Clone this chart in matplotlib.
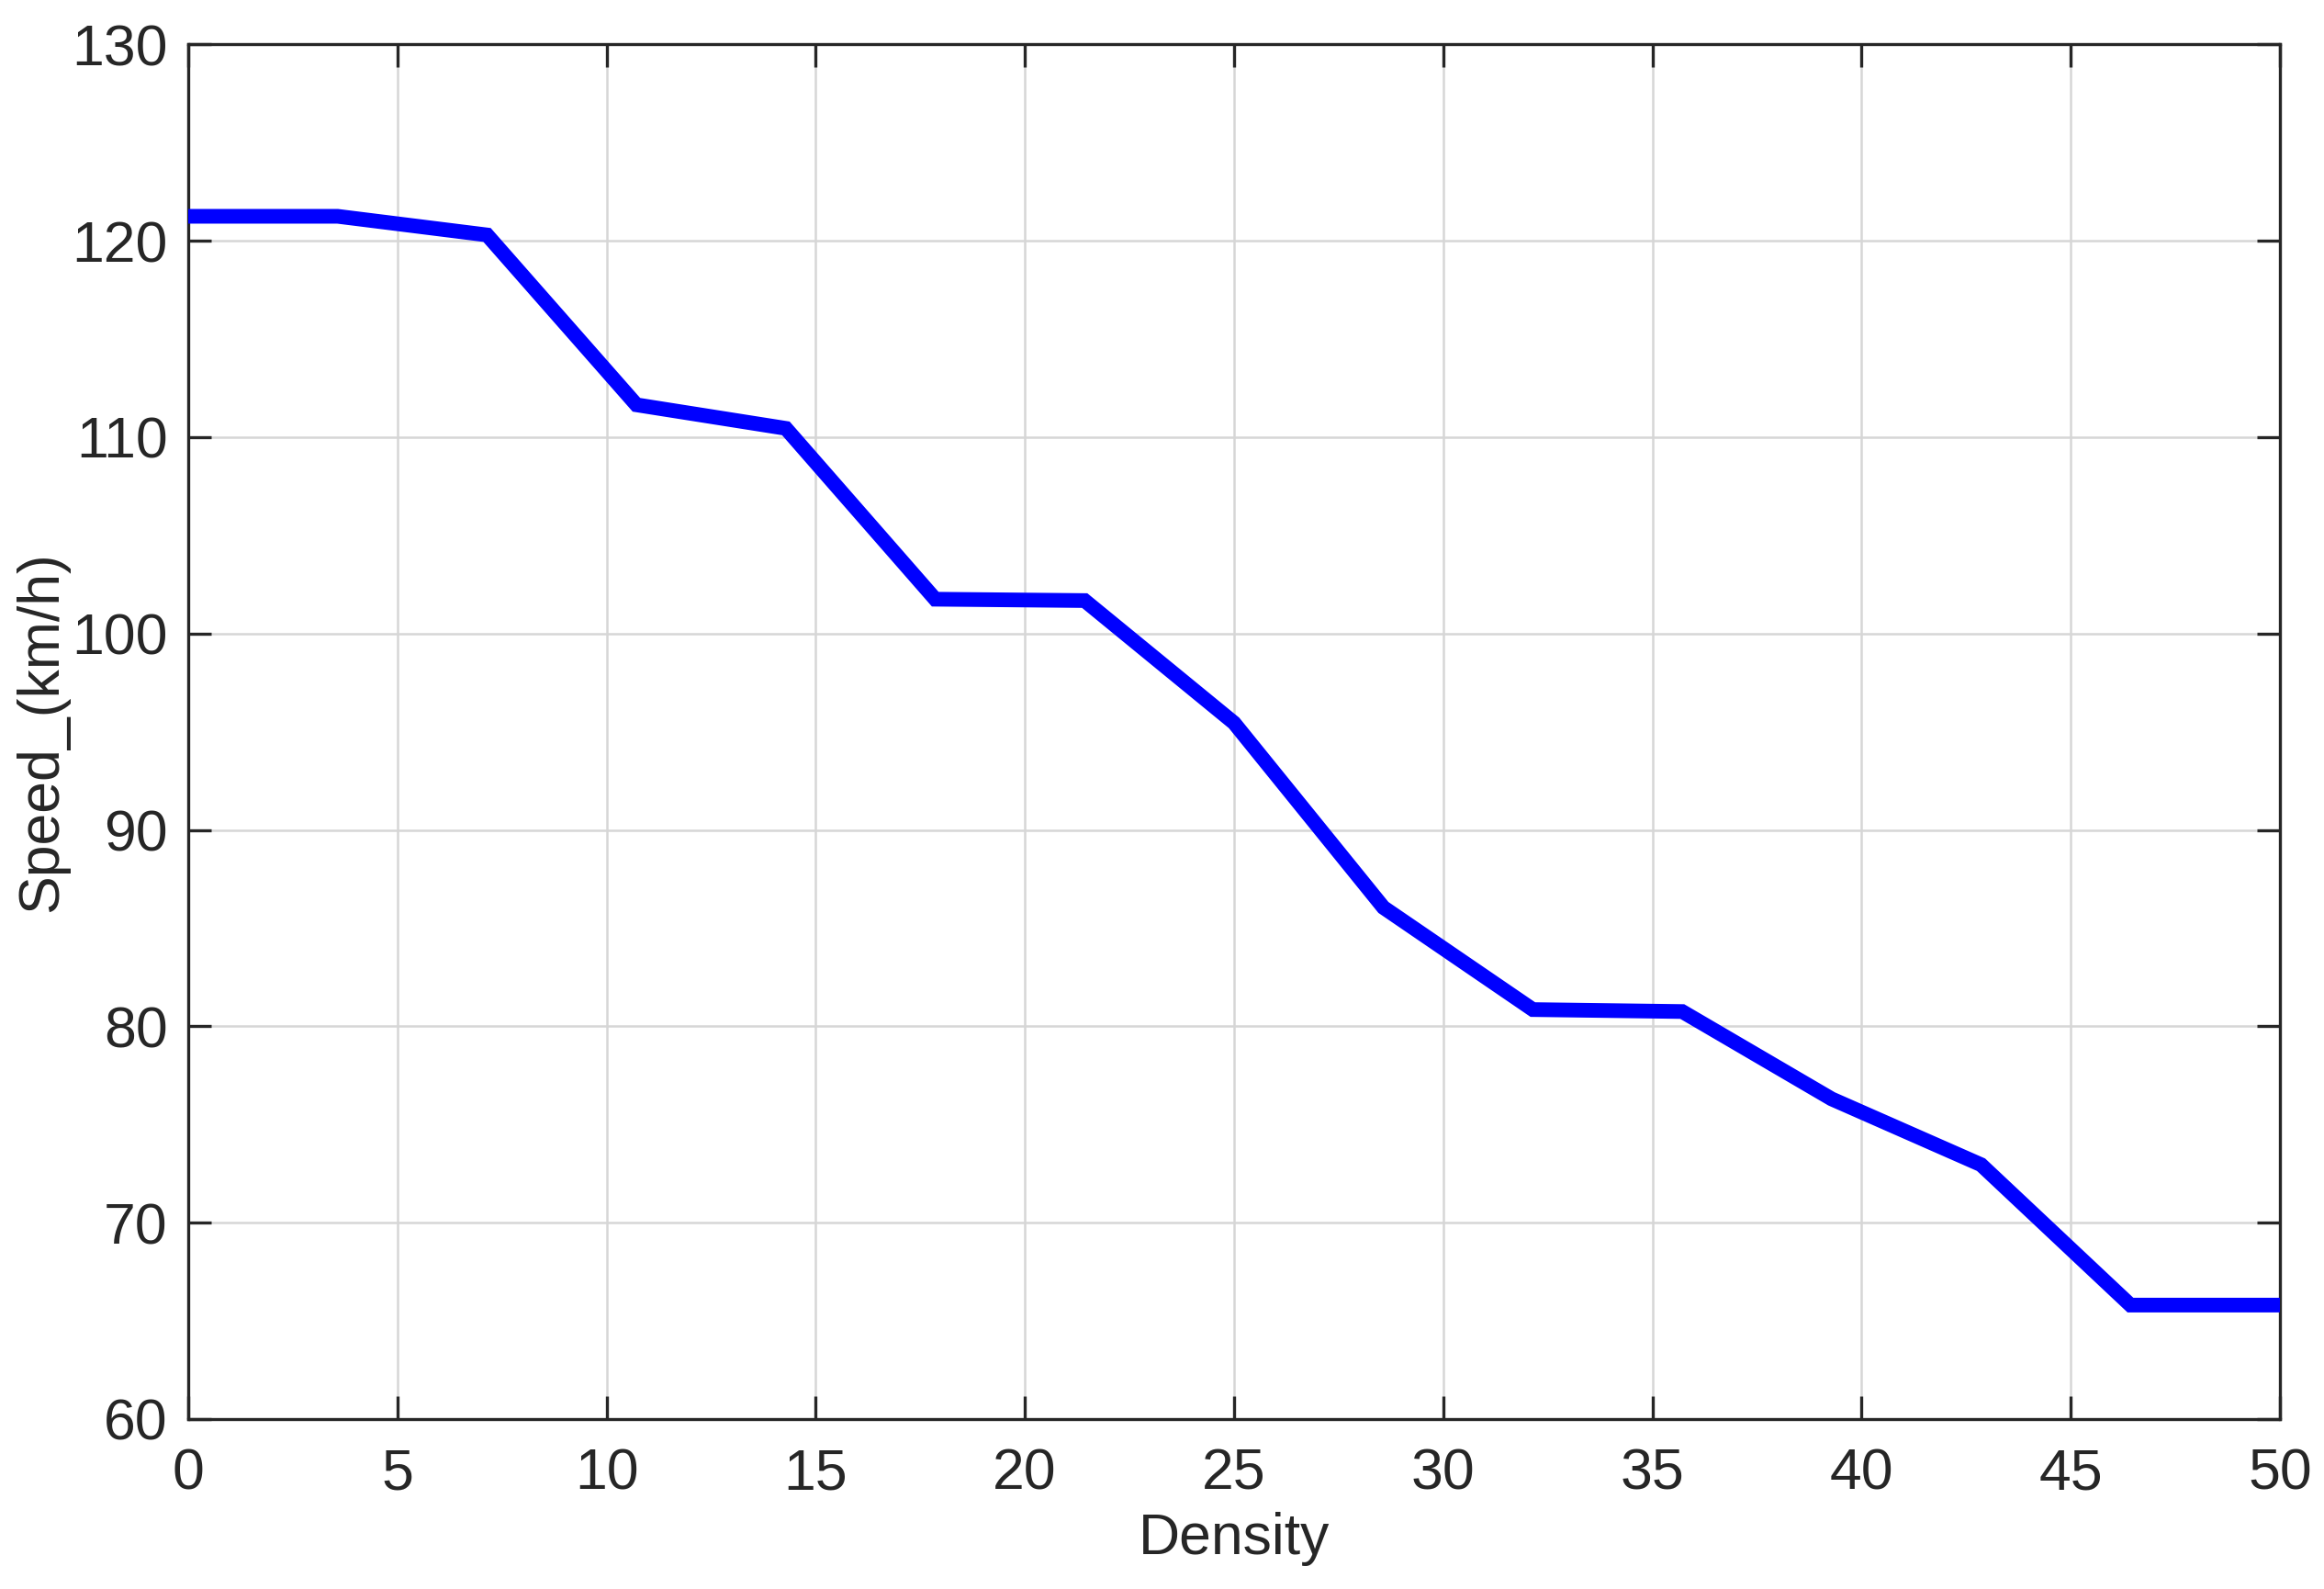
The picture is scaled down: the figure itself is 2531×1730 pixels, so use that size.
import matplotlib as mpl
mpl.use('Agg')
from matplotlib import pyplot as plt

density = [0, 3.571, 7.143, 10.714, 14.286, 17.857, 21.429, 25.0,
           28.571, 32.143, 35.714, 39.286, 42.857, 46.429, 50.0]
speed = [121.25, 121.25, 120.3, 111.65, 110.45, 101.75, 101.68, 95.45,
         86.05, 80.85, 80.75, 76.3, 72.95, 65.8, 65.8]

x_ticks = [0, 5, 10, 15, 20, 25, 30, 35, 40, 45, 50]
y_ticks = [60, 70, 80, 90, 100, 110, 120, 130]

plt.rcParams['font.family'] = ['Liberation Sans', 'DejaVu Sans']

fig = plt.figure(figsize=(25.31, 17.30), dpi=100, facecolor='w')
ax = fig.add_axes([0.081, 0.107, 0.9, 0.865])

ax.plot(density, speed, color=(0, 0, 1), lw=11.5, solid_joinstyle='miter', zorder=3)

ax.set_xlim(0, 50)
ax.set_ylim(60, 130)
ax.set_xticks(x_ticks)
ax.set_yticks(y_ticks)

ax.grid(True, color='#d6d6d6', lw=1.8, zorder=0)
ax.set_axisbelow(True)

for loc in ['top', 'right', 'left', 'bottom']:
    ax.spines[loc].set_color('#262626')
    ax.spines[loc].set_linewidth(2.4)

ax.tick_params(direction='in', length=18, width=2.4, color='#262626',
               top=True, right=True, labelsize=45, labelcolor='#262626')
ax.tick_params(axis='x', pad=22)
ax.tick_params(axis='y', pad=16)

ax.set_xlabel('Density', fontsize=45, color='#262626', labelpad=8)
ax.set_ylabel('Speed_(km/h)', fontsize=45, color='#262626', labelpad=2)

fig.savefig('out.png', dpi=100, facecolor='w')
